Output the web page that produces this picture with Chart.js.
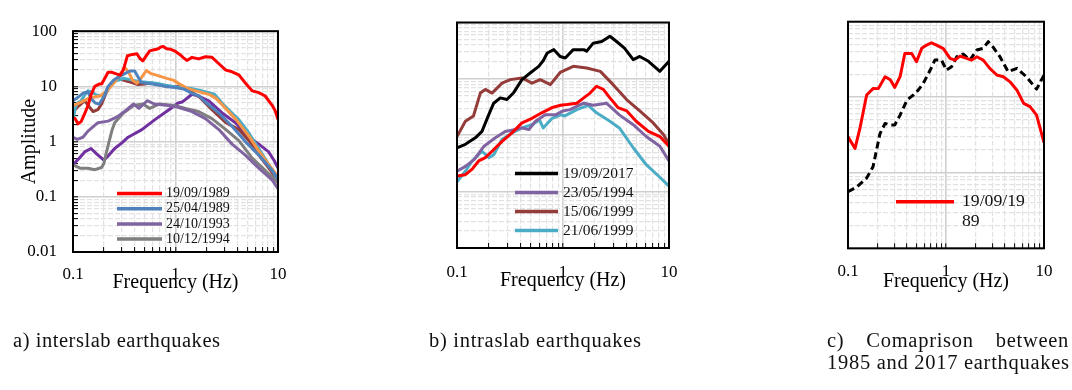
<!DOCTYPE html>
<html>
<head>
<meta charset="utf-8">
<script src="https://cdn.jsdelivr.net/npm/chart.js@4.4.1/dist/chart.umd.min.js"></script>
<style>
  html, body { margin: 0; padding: 0; background: #fff; }
  #wrap { position: relative; width: 1072px; height: 390px; overflow: hidden; }
  #wrap canvas { position: absolute; left: 0; top: 0; }
  .cap { position: absolute; font-family: 'Liberation Serif', 'Times New Roman', serif; font-size: 20.5px; line-height: 22px; color: #111; white-space: nowrap; }
  .just { text-align: justify; text-align-last: justify; width: 242px; }
</style>
</head>
<body>
<div id="wrap">
  <canvas id="chartA" width="1072" height="390"></canvas>
  <canvas id="chartB" width="1072" height="390"></canvas>
  <canvas id="chartC" width="1072" height="390"></canvas>
  <div class="cap" id="capA" style="left:13px;top:329px">a) interslab earthquakes</div>
  <div class="cap" id="capB" style="left:429px;top:329px">b) intraslab earthquakes</div>
  <div class="cap just" id="capC1" style="left:827px;top:329px">c) Comaprison between</div>
  <div class="cap" id="capC2" style="left:827px;top:351px">1985 and 2017 earthquakes</div>
</div>
<script>
// tick labels
const freqTicks = [0.1, 1, 10];
const freqTickText = ['0.1', '1', '10'];
const ampTicks = [0.01, 0.1, 1, 10, 100];
const ampTickText = ['0.01', '0.1', '1', '10', '100'];

// a) interslab earthquakes  [frequency Hz, amplitude]
const interRed = [[0.1,2.7],[0.105,2.6],[0.112,2.1],[0.12,2.3],[0.13,3.2],[0.14,4.5],[0.15,7],[0.163,10],[0.18,11],[0.19,11],[0.2,13],[0.22,18],[0.24,18],[0.26,17],[0.29,16],[0.31,20],[0.34,36],[0.38,38],[0.42,39],[0.45,32],[0.48,29],[0.52,36],[0.56,44],[0.62,46],[0.68,48],[0.72,52],[0.76,53],[0.82,48],[0.9,47],[1.0,43],[1.1,38],[1.2,33],[1.29,29.5],[1.45,33.6],[1.68,31.5],[1.96,34.5],[2.27,33.6],[2.65,25.7],[3.1,19.7],[3.56,18.4],[4.15,16.2],[4.8,11.5],[5.6,8.3],[6.5,7.7],[7.5,6.7],[8.8,4.5],[9.4,3.6],[10,2.5]];
const interBlue = [[0.1,5.5],[0.11,6.2],[0.125,7.5],[0.14,8],[0.15,6],[0.165,5],[0.18,4.8],[0.2,6.5],[0.22,10],[0.25,13],[0.28,15],[0.32,17],[0.36,19],[0.4,19],[0.43,15],[0.46,12],[0.5,11.5],[0.6,11],[0.7,10.5],[0.8,10],[1.0,9.5],[1.2,9],[1.45,7.5],[1.7,6.7],[1.96,5.2],[2.65,3.3],[3.56,1.9],[4.8,1.0],[6.5,0.57],[8.8,0.3],[10,0.21]];
const interLavender = [[0.1,1.2],[0.11,1.1],[0.125,1.2],[0.14,1.55],[0.175,2.2],[0.22,2.35],[0.27,2.8],[0.33,3.7],[0.39,4.8],[0.44,4.0],[0.53,5.5],[0.62,4.8],[0.85,4.5],[1.06,4.2],[1.45,3.5],[1.96,2.6],[2.65,1.65],[3.56,0.9],[4.8,0.57],[6.5,0.33],[8.8,0.2],[10,0.14]];
const interGray = [[0.1,0.38],[0.117,0.33],[0.14,0.33],[0.163,0.31],[0.19,0.34],[0.2,0.4],[0.21,0.6],[0.22,0.85],[0.24,1.6],[0.255,2.2],[0.31,3.3],[0.39,4.5],[0.48,4.8],[0.56,4.0],[0.7,4.8],[0.98,4.5],[1.25,4],[1.68,3.5],[2.27,2.6],[3.1,1.65],[4.15,1.04],[5.6,0.5],[7.5,0.3],[10,0.18]];
const interBrown = [[0.1,3.5],[0.115,4.5],[0.13,5.5],[0.145,4.2],[0.157,3.5],[0.175,3.8],[0.19,4.8],[0.21,7.5],[0.236,11.5],[0.276,14],[0.31,13],[0.345,12.3],[0.43,10.8],[0.5,11],[0.58,11.5],[0.79,10.1],[1.06,10],[1.38,8.2],[1.7,6.5],[2.27,3.8],[3.1,2.2],[4.15,1.65],[5.3,1.0],[6.5,0.57],[8.5,0.3],[10,0.18]];
const interCyan = [[0.1,2.4],[0.105,4],[0.11,5],[0.12,5.5],[0.13,7],[0.14,8.3],[0.15,8],[0.17,7],[0.2,6.7],[0.22,9],[0.247,12.2],[0.28,13],[0.31,14],[0.38,13],[0.45,12.2],[0.55,11.8],[0.65,11.4],[0.8,10.5],[0.95,10],[1.15,9.5],[1.38,9.3],[1.7,8.5],[2.16,7.6],[2.4,7.2],[2.9,4.8],[3.5,3.4],[4.15,2.5],[5,1.6],[6.5,0.75],[8,0.4],[10,0.2]];
const interOrange = [[0.1,4.5],[0.117,5.1],[0.145,6.2],[0.183,6.7],[0.213,8.2],[0.257,12.2],[0.29,17],[0.32,22],[0.35,18],[0.38,13],[0.42,11.4],[0.46,14],[0.52,19.4],[0.58,17],[0.65,16],[0.82,14],[0.95,13],[1.1,11],[1.29,9.3],[1.6,8.2],[2.16,7.1],[2.5,6],[2.9,4.5],[3.9,2.5],[5.3,1.2],[6.4,0.7],[8,0.4],[10,0.23]];
const interPurple = [[0.1,0.38],[0.115,0.5],[0.13,0.65],[0.15,0.75],[0.17,0.6],[0.2,0.46],[0.22,0.55],[0.255,0.75],[0.3,0.95],[0.345,1.2],[0.47,1.65],[0.63,2.5],[0.85,3.7],[1.06,5.0],[1.16,5.2],[1.45,7.2],[1.68,6.7],[2.1,5.5],[2.85,3.3],[3.85,2.2],[5.2,1.2],[6.5,0.9],[8.1,0.65],[9.2,0.45],[10,0.33]];

// b) intraslab earthquakes
const intraBlack = [[0.1,0.6],[0.12,0.69],[0.149,0.9],[0.172,1.17],[0.199,2.3],[0.222,3.7],[0.256,4.6],[0.296,4.3],[0.34,5.6],[0.41,9.7],[0.49,12.7],[0.59,16.7],[0.65,21],[0.71,28.8],[0.82,33],[0.94,25],[1.05,23.5],[1.25,33],[1.57,33],[1.67,31],[1.93,43],[2.32,46],[2.77,57],[3.2,46],[3.8,35],[4.6,22],[5.3,25],[6.4,20.5],[8.2,13.6],[10,20.5]];
const intraPurple = [[0.1,0.23],[0.12,0.28],[0.145,0.37],[0.18,0.64],[0.23,0.9],[0.285,1.17],[0.355,1.26],[0.41,1.35],[0.475,1.26],[0.55,1.77],[0.68,2.3],[0.85,2.3],[1.0,2.7],[1.16,2.85],[1.57,3.7],[1.93,3.4],[2.57,3.7],[3.4,2.3],[4.6,1.54],[6.1,0.95],[8.2,0.64],[10,0.35]];
const intraBrown = [[0.1,0.95],[0.12,1.77],[0.143,2.2],[0.166,5.6],[0.185,6.5],[0.214,5.6],[0.266,8.4],[0.318,9.7],[0.41,10.4],[0.51,8.4],[0.61,9.7],[0.76,7.9],[0.94,13],[1.25,16.7],[1.67,15.6],[2.25,13.6],[2.97,7.9],[3.98,4.3],[5.3,2.7],[7.1,1.65],[8.9,1.02],[10,0.69]];
const intraCyan = [[0.1,0.15],[0.12,0.23],[0.139,0.35],[0.172,0.52],[0.2,0.4],[0.222,0.45],[0.266,0.84],[0.33,1.1],[0.41,1.35],[0.51,1.54],[0.6,1.87],[0.65,1.35],[0.79,2.0],[0.95,2.3],[1.04,2.2],[1.35,2.85],[1.73,3.4],[2.07,2.5],[2.77,1.77],[3.4,1.35],[4.6,0.6],[6.1,0.3],[8.2,0.18],[10,0.125]];
const intraRed = [[0.1,0.19],[0.12,0.2],[0.139,0.25],[0.16,0.35],[0.185,0.4],[0.214,0.52],[0.266,0.78],[0.33,1.1],[0.41,1.66],[0.51,2.0],[0.63,2.5],[0.79,3.1],[0.95,3.4],[1.09,3.5],[1.35,3.7],[1.57,4.6],[1.8,5.6],[2.07,7.4],[2.4,6.5],[2.77,4.6],[3.3,3.1],[4.0,2.7],[4.9,1.77],[6.4,1.17],[8.2,0.95],[10,0.64]];

// c) comparison 1985 / 2017
const compRed = [[0.1,3.0],[0.118,2.1],[0.133,4.0],[0.155,10.7],[0.181,13.1],[0.204,13],[0.239,18.7],[0.27,17],[0.3,13.5],[0.34,18.7],[0.38,38],[0.447,38],[0.5,29.5],[0.565,44.4],[0.635,49],[0.71,52.6],[0.8,49],[0.94,44],[1.1,32.7],[1.23,31],[1.39,35],[1.62,32.7],[1.83,31],[2.06,34.4],[2.4,31],[2.8,24.1],[3.3,19.7],[3.85,18.7],[4.5,16],[5.3,12.4],[6.2,8.3],[7.2,7.5],[8.4,5.8],[10,2.5]];
const compBlack = [[0.1,0.56],[0.123,0.65],[0.155,0.85],[0.18,1.2],[0.212,3.3],[0.239,4.5],[0.27,4.3],[0.3,4.3],[0.34,5.8],[0.4,9.2],[0.465,10.7],[0.52,12.4],[0.585,15.2],[0.69,22.9],[0.77,31],[0.9,31],[1.01,22.9],[1.14,25.4],[1.29,34.4],[1.5,37.3],[1.75,31],[2.06,42.2],[2.4,44.4],[2.7,54.4],[3.0,46.7],[3.55,34.4],[4.3,21.8],[5.3,24.1],[6.6,18.7],[8.4,12.8],[10,19.7]];

Chart.defaults.font.family = "'Liberation Serif', 'Times New Roman', serif";
Chart.defaults.color = '#000';

const pts = arr => arr.map(([f, a]) => ({ x: f, y: a }));
const isDecade = v => Math.abs(Math.log10(v) - Math.round(Math.log10(v))) < 1e-6;
function logGrid(min, max) {
  const out = [];
  for (let e = Math.round(Math.log10(min)); e < Math.round(Math.log10(max)); e++) {
    for (let m = 1; m < 10; m++) out.push(+(m * Math.pow(10, e)).toPrecision(6));
  }
  out.push(max);
  return out;
}
function tickText(values, texts, v) {
  const i = values.findIndex(t => Math.abs(t - v) / t < 1e-6);
  return i >= 0 ? texts[i] : '';
}
const gridOpts = (inside) => ({
  color: c => (c.tick && isDecade(c.tick.value)) ? '#cfcfcf' : '#e2e2e2',
  lineWidth: c => (c.tick && isDecade(c.tick.value)) ? 1.6 : 1.2,
  drawTicks: inside,
  tickLength: -5,
  tickColor: '#000',
  tickWidth: 1
});
const borderOpts = {
  display: false,
  dash: c => (c.tick && !isDecade(c.tick.value)) ? [5, 2] : []
};

function freqAxis(tickPad, titlePad) {
  return {
    type: 'logarithmic', min: 0.1, max: 10,
    afterBuildTicks: s => { s.ticks = logGrid(0.1, 10).map(v => ({ value: v, major: isDecade(v) })); },
    afterFit: s => { s.height = 45; },
    grid: gridOpts(true),
    border: borderOpts,
    ticks: { autoSkip: false, maxRotation: 0, minRotation: 0, padding: tickPad, font: { size: 17 },
      callback: v => tickText(freqTicks, freqTickText, v) },
    title: { display: true, text: 'Frequency (Hz)', font: { size: 20 }, padding: { top: 0, bottom: titlePad } }
  };
}
function ampAxis(min, labelled) {
  return {
    type: 'logarithmic', min: min, max: 100,
    afterBuildTicks: s => { s.ticks = logGrid(min, 100).map(v => ({ value: v, major: isDecade(v) })); },
    afterFit: s => { s.width = labelled ? 67 : 10; },
    grid: gridOpts(labelled),
    border: borderOpts,
    ticks: { display: labelled, autoSkip: false, padding: 21, font: { size: 17 },
      callback: v => tickText(ampTicks, ampTickText, v) },
    title: { display: labelled, text: 'Amplitude', font: { size: 20 }, padding: { top: 12, bottom: 0 } }
  };
}

const frame = {
  id: 'frame',
  afterDatasetsDraw(chart) {
    const { ctx, chartArea: a } = chart;
    ctx.save();
    ctx.strokeStyle = '#000';
    ctx.lineWidth = 2;
    ctx.strokeRect(a.left, a.top, a.right - a.left, a.bottom - a.top);
    ctx.restore();
  }
};

const insideLegend = {
  id: 'insideLegend',
  afterDraw(chart, args, o) {
    if (!o || !o.rows) return;
    const ctx = chart.ctx;
    ctx.save();
    ctx.font = o.fontSize + "px 'Liberation Serif', serif";
    ctx.textBaseline = 'middle';
    o.rows.forEach((idx, k) => {
      const ds = chart.data.datasets[idx];
      const y = o.y + k * o.dy;
      ctx.setLineDash([]);
      ctx.strokeStyle = ds.borderColor;
      ctx.lineWidth = 3.5;
      ctx.beginPath();
      ctx.moveTo(o.x1, y);
      ctx.lineTo(o.x2, y);
      ctx.stroke();
      ctx.fillStyle = '#111';
      // wrap label by characters inside maxWidth
      const lines = [];
      let cur = '';
      for (const ch of ds.label) {
        if (ctx.measureText(cur + ch).width > o.maxWidth && cur) { lines.push(cur); cur = ch; }
        else cur += ch;
      }
      lines.push(cur);
      lines.forEach((ln, j) => ctx.fillText(ln, o.tx, y + j * o.lineStep));
    });
    ctx.restore();
  }
};

function makeChart(id, datasets, pad, scales, legendOpts) {
  return new Chart(document.getElementById(id), {
    type: 'line',
    data: { datasets },
    options: {
      responsive: false,
      animation: false,
      devicePixelRatio: 1,
      events: [],
      layout: { padding: pad },
      elements: { point: { radius: 0 }, line: { tension: 0, borderWidth: 3, borderJoinStyle: 'round' } },
      plugins: { legend: { display: false }, tooltip: { enabled: false }, insideLegend: legendOpts },
      scales
    },
    plugins: [frame, insideLegend]
  });
}

makeChart('chartA', [
  { label: '19/09/1989', data: pts(interRed), borderColor: '#ff0000' },
  { label: '25/04/1989', data: pts(interBlue), borderColor: '#4f81bd' },
  { label: '24/10/1993', data: pts(interLavender), borderColor: '#8064a2' },
  { label: '10/12/1994', data: pts(interGray), borderColor: '#7f7f7f' },
  { label: '', data: pts(interOrange), borderColor: '#f79646' },
  { label: '', data: pts(interCyan), borderColor: '#4bacc6' },
  { label: '', data: pts(interBrown), borderColor: '#943c3a' },
  { label: '', data: pts(interPurple), borderColor: '#7030a0' }
], { left: 6, top: 22.5, right: 794, bottom: 93 },
  { x: freqAxis(17.8, 2), y: ampAxis(0.01, true) },
  { rows: [0, 1, 2, 3], x1: 117, x2: 162, tx: 166, y: 193.5, dy: 15.2, fontSize: 14, maxWidth: 200, lineStep: 15 });

makeChart('chartB', [
  { label: '', data: pts(intraRed), borderColor: '#ff0000' },
  { label: '19/09/2017', data: pts(intraBlack), borderColor: '#000000' },
  { label: '23/05/1994', data: pts(intraPurple), borderColor: '#8064a2' },
  { label: '15/06/1999', data: pts(intraBrown), borderColor: '#943c3a' },
  { label: '21/06/1999', data: pts(intraCyan), borderColor: '#4bacc6' }
], { left: 447, top: 22.5, right: 403, bottom: 97 },
  { x: freqAxis(19.3, 0), y: ampAxis(0.01, false) },
  { rows: [1, 2, 3, 4], x1: 515, x2: 558, tx: 563, y: 173.5, dy: 19, fontSize: 15.5, maxWidth: 200, lineStep: 19 });

makeChart('chartC', [
  { label: '19/09/1989', data: pts(compRed), borderColor: '#ff0000' },
  { label: '19/09/2017', data: pts(compBlack), borderColor: '#000000', borderDash: [7, 4] }
], { left: 838, top: 21.7, right: 28, bottom: 96.7 },
  { x: freqAxis(18.2, 0), y: ampAxis(0.1, false) },
  { rows: [0], x1: 896, x2: 954, tx: 962, y: 201.7, dy: 20, fontSize: 17.7, maxWidth: 70, lineStep: 20 });

// caption letter spacing to match the wider serif of the original
const mctx = document.createElement('canvas').getContext('2d');
mctx.font = "20.5px 'Liberation Serif'";
function fitCaption(id, width) {
  const el = document.getElementById(id);
  const t = el.textContent;
  const ls = (width - mctx.measureText(t).width) / (t.length - 1);
  el.style.letterSpacing = ls + 'px';
  return ls;
}
fitCaption('capA', 207);
fitCaption('capB', 212);
const lsC = fitCaption('capC2', 242);
document.getElementById('capC1').style.letterSpacing = lsC + 'px';
</script>
</body>
</html>
